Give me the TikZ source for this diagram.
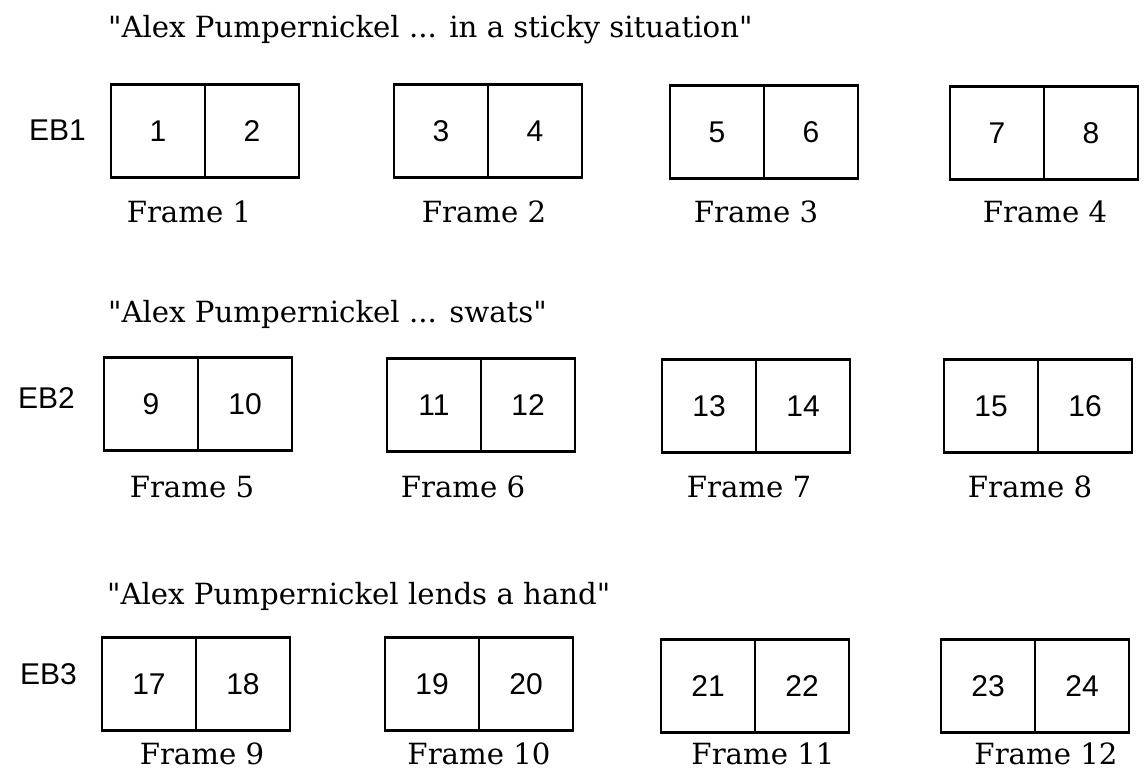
\documentclass[tikz,border=0pt]{standalone}
\usepackage{fontspec}
\setmainfont{DejaVu Serif}[Ligatures=TeXOff]
\newfontfamily\numfont{Liberation Sans}
\usetikzlibrary{positioning}
\begin{document}
\begin{tikzpicture}[x=0.5pt,y=-0.5pt,
 half/.style={draw,line width=1.4pt,minimum width=47pt,minimum height=46.5pt,inner sep=0pt,outer sep=0pt,font=\numfont\fontsize{15}{18}\selectfont},
 framelab/.style={anchor=base,inner sep=0.5pt,font=\fontsize{14.6}{17}\selectfont},
 ttl/.style={anchor=base west,font=\fontsize{14.6}{17}\selectfont},
 eb/.style={anchor=base west,font=\numfont\fontsize{15}{18}\selectfont}]
\useasboundingbox (0,0) rectangle (1144,771);
% row 1
\node[ttl] (t1) at (101,37) {"Alex Pumpernickel ... in a sticky situation"};
\node[eb] (eb1) at (22,140) {EB1};
\node[half] (f1a) at (158,131) {1}; \node[half,right=0pt of f1a] (f1b) {2};
\node[half] (f2a) at (441,131) {3}; \node[half,right=0pt of f2a] (f2b) {4};
\node[half] (f3a) at (717,132) {5}; \node[half,right=0pt of f3a] (f3b) {6};
\node[half] (f4a) at (997,133) {7}; \node[half,right=0pt of f4a] (f4b) {8};
\node[framelab] (c1) at (189,222) {Frame 1};
\node[framelab] (c2) at (484,222) {Frame 2};
\node[framelab] (c3) at (756,222) {Frame 3};
\node[framelab] (c4) at (1045,222) {Frame 4};
% row 2
\node[ttl] (t2) at (101,322) {"Alex Pumpernickel ... swats"};
\node[eb] (eb2) at (11,408) {EB2};
\node[half] (f5a) at (151,404) {9}; \node[half,right=0pt of f5a] (f5b) {10};
\node[half] (f6a) at (434,405) {11}; \node[half,right=0pt of f6a] (f6b) {12};
\node[half] (f7a) at (709,406) {13}; \node[half,right=0pt of f7a] (f7b) {14};
\node[half] (f8a) at (991,406) {15}; \node[half,right=0pt of f8a] (f8b) {16};
\node[framelab] (c5) at (192,497) {Frame 5};
\node[framelab] (c6) at (463,497) {Frame 6};
\node[framelab] (c7) at (749,497) {Frame 7};
\node[framelab] (c8) at (1030,497) {Frame 8};
% row 3
\node[ttl] (t3) at (100,604) {"Alex Pumpernickel lends a hand"};
\node[eb] (eb3) at (13,684) {EB3};
\node[half] (f9a) at (149,684) {17}; \node[half,right=0pt of f9a] (f9b) {18};
\node[half] (f10a) at (432,684) {19}; \node[half,right=0pt of f10a] (f10b) {20};
\node[half] (f11a) at (708,686) {21}; \node[half,right=0pt of f11a] (f11b) {22};
\node[half] (f12a) at (988,686) {23}; \node[half,right=0pt of f12a] (f12b) {24};
\node[framelab] (c9) at (202,764) {Frame~9};
\node[framelab] (c10) at (479,764) {Frame~10};
\node[framelab] (c11) at (763,764) {Frame~11};
\node[framelab] (c12) at (1046,764) {Frame~12};
\end{tikzpicture}
\end{document}
